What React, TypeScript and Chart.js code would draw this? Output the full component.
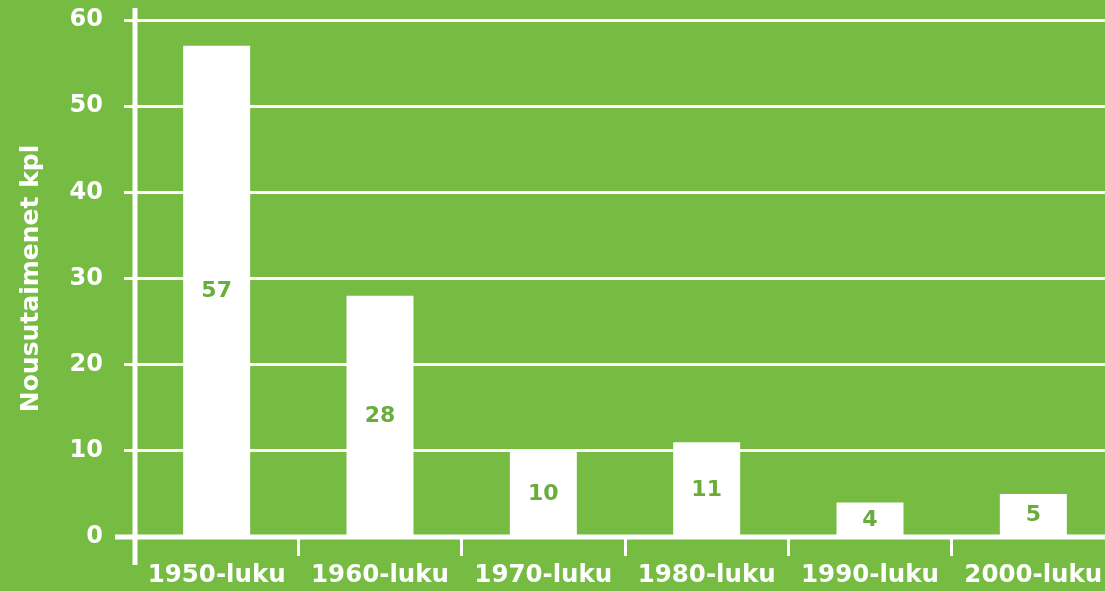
import React, { useEffect, useRef } from "react";
import { Chart, registerables } from "chart.js";

Chart.register(...registerables);

const categories = ["1950-luku", "1960-luku", "1970-luku", "1980-luku", "1990-luku", "2000-luku"];
const values = [57, 28, 10, 11, 4, 5];
const yMin = 0;
const yMax = 60;
const yStep = 10;
const yTitle = "Nousutaimenet kpl";

const BG = "#76bc43";
const LABEL_GREEN = "#6aad3c";
const FONT = "'DejaVu Sans', sans-serif";

const axisPlugin = {
  id: "axisLines",
  afterDatasetsDraw(chart: any) {
    const { ctx, chartArea } = chart;
    const y0 = chart.scales.y.getPixelForValue(0);
    ctx.save();
    ctx.strokeStyle = "#ffffff";
    ctx.lineWidth = 5;
    ctx.beginPath();
    ctx.moveTo(115, y0);
    ctx.lineTo(chartArea.right + 20, y0);
    ctx.stroke();
    ctx.beginPath();
    ctx.moveTo(chartArea.left, 8);
    ctx.lineTo(chartArea.left, 565);
    ctx.stroke();
    ctx.restore();
  },
};

const labelPlugin = {
  id: "barLabels",
  afterDatasetsDraw(chart: any) {
    const { ctx } = chart;
    const meta = chart.getDatasetMeta(0);
    ctx.save();
    ctx.fillStyle = LABEL_GREEN;
    ctx.font = `bold 22px ${FONT}`;
    ctx.textAlign = "center";
    ctx.textBaseline = "middle";
    meta.data.forEach((bar: any, i: number) => {
      const p = bar.getProps(["x", "y", "base"], true);
      ctx.fillText(String(values[i]), p.x, (p.y + p.base) / 2 + 1);
    });
    ctx.restore();
  },
};

export default function App() {
  const ref = useRef<HTMLCanvasElement | null>(null);

  useEffect(() => {
    if (!ref.current) return;
    Chart.defaults.font.family = FONT;
    const chart = new Chart(ref.current, {
      type: "bar",
      data: {
        labels: categories,
        datasets: [
          {
            data: values,
            backgroundColor: "#ffffff",
            borderWidth: 0,
            categoryPercentage: 1,
            barPercentage: 0.41,
          },
        ],
      },
      options: {
        responsive: false,
        animation: false,
        devicePixelRatio: 1,
        layout: { padding: { top: 20, left: 0, right: 0, bottom: 0 } },
        plugins: {
          legend: { display: false },
          tooltip: { enabled: false },
        },
        scales: {
          x: {
            offset: true,
            border: { display: false },
            grid: {
              offset: true,
              drawOnChartArea: false,
              drawTicks: true,
              tickLength: 19,
              lineWidth: 3,
              color: "#ffffff",
            },
            ticks: {
              color: "#ffffff",
              font: { size: 24.5, weight: "bold" },
              padding: 5,
              maxRotation: 0,
              autoSkip: false,
            },
            afterFit: (s: any) => {
              s.height = 54;
            },
          },
          y: {
            min: yMin,
            max: yMax,
            border: { display: false },
            grid: {
              color: "#ffffff",
              lineWidth: 3,
              tickLength: 11,
              drawTicks: true,
            },
            ticks: {
              stepSize: yStep,
              color: "#ffffff",
              font: { size: 24, weight: "bold" },
              padding: 21,
            },
            title: {
              display: true,
              text: yTitle,
              color: "#ffffff",
              font: { size: 25, weight: "bold" },
              padding: { top: 16, bottom: 0 },
            },
            afterFit: (s: any) => {
              s.width = 135;
              s.paddingTop = 0;
              s.paddingBottom = 0;
            },
          },
        },
      },
      plugins: [axisPlugin, labelPlugin],
    });
    return () => chart.destroy();
  }, []);

  return (
    <div
      style={{
        position: "fixed",
        left: 0,
        top: 0,
        width: 1105,
        height: 591,
        overflow: "hidden",
        background: BG,
      }}
    >
      <canvas ref={ref} width={1115} height={591} style={{ display: "block" }} />
    </div>
  );
}
